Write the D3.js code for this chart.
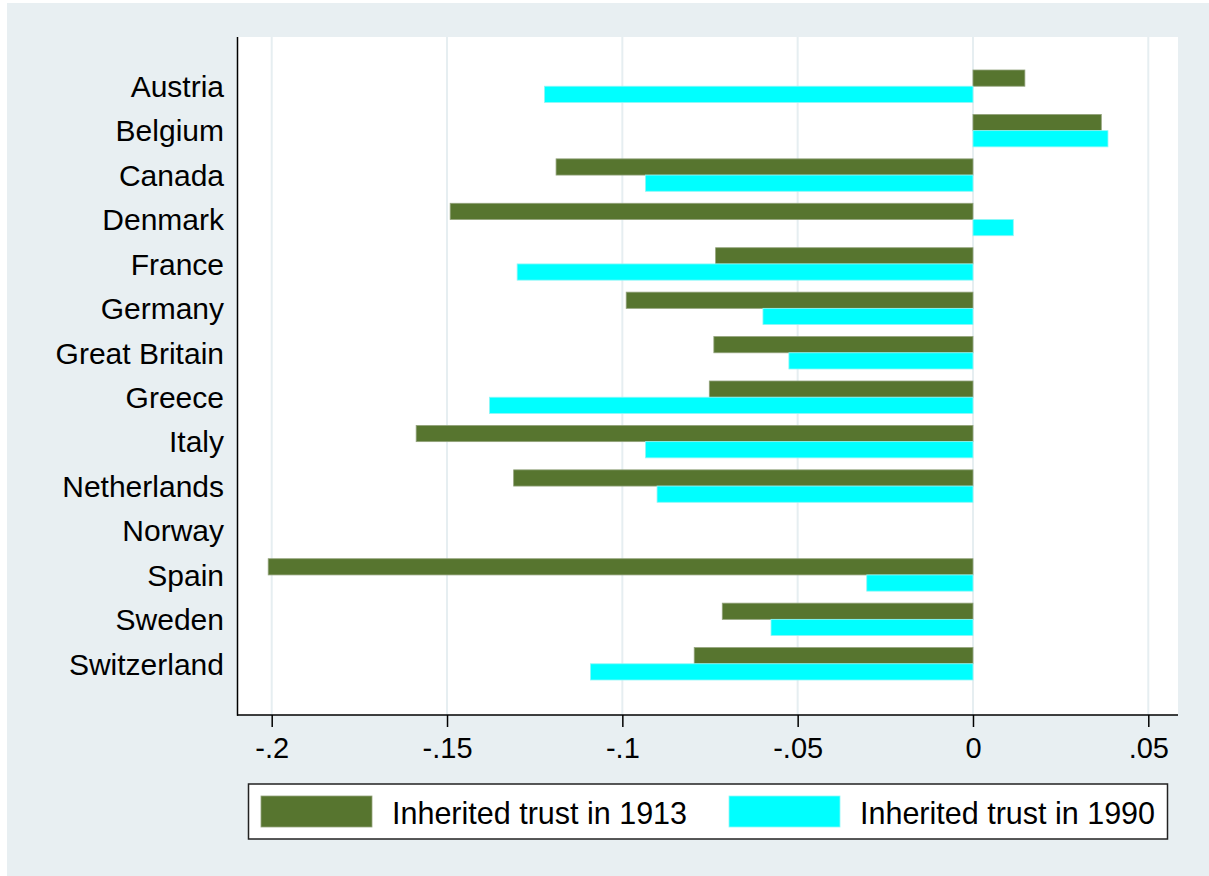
<html>
<script src='https://d3js.org/d3.v7.min.js'></script>
<style>
body {margin: 0; background: white;}
text {font-family: Arial, "Liberation Sans", sans-serif; fill: black;}
</style>
<body>
<svg width=1209 height=876></svg>
<script>
// data
var countries = ["Austria","Belgium","Canada","Denmark","France","Germany","Great Britain",
                 "Greece","Italy","Netherlands","Norway","Spain","Sweden","Switzerland"];
var trust1913 = [0.0148, 0.0366, -0.1189, -0.1491, -0.0734, -0.0989, -0.0739,
                 -0.0752, -0.1588, -0.1310, null, -0.2010, -0.0715, -0.0795];
var trust1990 = [-0.1222, 0.0385, -0.0934, 0.0115, -0.1300, -0.0599, -0.0525,
                 -0.1379, -0.0934, -0.0901, null, -0.0303, -0.0576, -0.1091];
var seriesNames = ["Inherited trust in 1913", "Inherited trust in 1990"];
var xTicks = [-0.2, -0.15, -0.1, -0.05, 0, 0.05];
var xTickLabels = ["-.2", "-.15", "-.1", "-.05", "0", ".05"];

var colors = ["#57752f", "#00ffff"];
var strokes = ["#93a37c", "#8ff7f7"];

var svg = d3.select("svg");
var plotL = 238, plotR = 1178, plotT = 37, plotB = 715;

// background
svg.append("rect").attr("x", 7).attr("y", 3).attr("width", 1202).attr("height", 873)
   .attr("fill", "#e8eff2");
svg.append("rect").attr("x", plotL).attr("y", plotT).attr("width", plotR - plotL).attr("height", plotB - plotT)
   .attr("fill", "white");

var xs = d3.scaleLinear().domain([-0.2, 0.05]).range([271.7, 1148.3]);
var ys = d3.scaleBand().domain(countries).range([64, 686]).paddingInner(0.27).paddingOuter(0.135);
var sub = d3.scaleBand().domain([0, 1]).range([0, ys.bandwidth()]);

// grid lines
svg.append("g").selectAll("line")
   .data(xTicks)
   .enter().append("line")
   .attr("x1", function(d){return xs(d);})
   .attr("x2", function(d){return xs(d);})
   .attr("y1", plotT).attr("y2", plotB)
   .attr("stroke", "#e6eef1").attr("stroke-width", 2);

// bars
var rows = countries.map(function(c, i){ return {country: c, vals: [trust1913[i], trust1990[i]]}; });
var groups = svg.append("g").selectAll("g")
   .data(rows)
   .enter().append("g")
   .attr("transform", function(d){return "translate(0," + ys(d.country) + ")";});

groups.selectAll("rect")
   .data(function(d){ return d.vals.map(function(v, j){ return {v: v, j: j}; }).filter(function(e){ return e.v != null; }); })
   .enter().append("rect")
   .attr("x", function(d){ return xs(Math.min(0, d.v)); })
   .attr("width", function(d){ return Math.abs(xs(d.v) - xs(0)); })
   .attr("y", function(d){ return sub(d.j); })
   .attr("height", sub.bandwidth())
   .attr("fill", function(d){ return colors[d.j]; })
   .attr("stroke", function(d){ return strokes[d.j]; })
   .attr("stroke-width", 0.8);

// y labels
svg.append("g").selectAll("text")
   .data(countries)
   .enter().append("text")
   .attr("x", 224)
   .attr("y", function(d){ return ys(d) + ys.bandwidth() / 2; })
   .attr("dy", "0.36em")
   .attr("text-anchor", "end")
   .style("font-size", "30px")
   .text(function(d){ return d; });

// axes
svg.append("line").attr("x1", 237.5).attr("x2", 237.5).attr("y1", plotT).attr("y2", plotB + 0.75)
   .attr("stroke", "black").attr("stroke-width", 1.5);
svg.append("line").attr("x1", 237).attr("x2", plotR).attr("y1", plotB).attr("y2", plotB)
   .attr("stroke", "black").attr("stroke-width", 1.5);

var xAxis = svg.append("g").attr("transform", "translate(0," + plotB + ")")
   .call(d3.axisBottom(xs).tickValues(xTicks).tickSize(12).tickPadding(10)
         .tickFormat(function(d, i){ return xTickLabels[i]; }));
xAxis.select(".domain").remove();
xAxis.selectAll("line").attr("stroke", "black").attr("stroke-width", 1.5);
xAxis.selectAll("text").style("font-size", "29px").attr("font-family", null).attr("fill", "black");

// legend
var leg = svg.append("g");
leg.append("rect").attr("x", 248.5).attr("y", 784).attr("width", 919).attr("height", 55)
   .attr("fill", "white").attr("stroke", "#222").attr("stroke-width", 1.5);
var legX = [261, 729];
seriesNames.forEach(function(name, i){
   leg.append("rect").attr("x", legX[i]).attr("y", 796).attr("width", 111).attr("height", 31)
      .attr("fill", colors[i]).attr("stroke", strokes[i]).attr("stroke-width", 0.8);
   leg.append("text").attr("x", legX[i] + 131).attr("y", 824)
      .style("font-size", "30.5px").text(name);
});
</script>
</body>
</html>
